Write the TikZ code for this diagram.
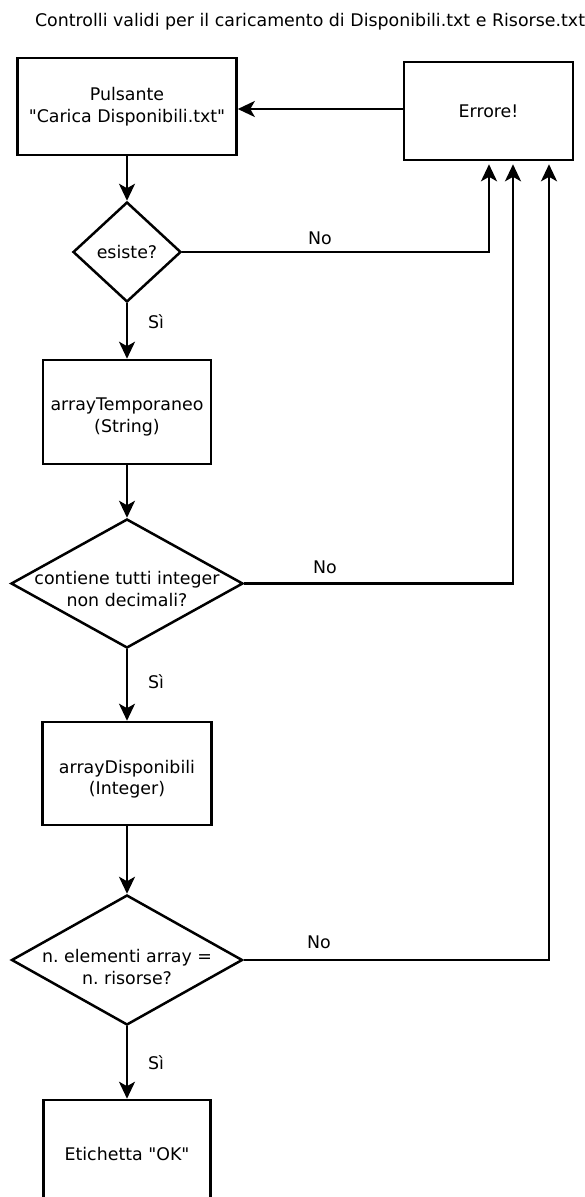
\documentclass[tikz,border=0pt]{standalone}
\usepackage{fontspec}
\newfontfamily\dvs{DejaVu Sans}
\usetikzlibrary{shapes.geometric,arrows.meta}
\begin{document}
\begin{tikzpicture}[x=1pt,y=-1pt,
  every node/.style={font=\dvs\fontsize{17.4}{21.5}\selectfont\frenchspacing, align=center},
  procbox/.style={draw, line width=2.6pt, rectangle, inner sep=0pt},
  decision/.style={draw, line width=2.5pt, diamond, inner sep=0pt},
  flow/.style={line width=2.4pt, -{Stealth[length=17pt,width=16pt,inset=4.5pt]}},
  lbl/.style={inner sep=0pt}
]
\useasboundingbox (0,0) rectangle (585,1197);
\clip (0,0) rectangle (585,1197);
\node[lbl] (title) at (310,22) {Controlli validi per il caricamento di Disponibili.txt e Risorse.txt};

\node[procbox, minimum width=219pt, minimum height=97pt] (puls) at (127,106.5) {Pulsante\\"Carica Disponibili.txt"};
\node[procbox, minimum width=169pt, minimum height=98pt] (err) at (488.5,111) {Errore!};

\node[decision, minimum width=108pt, minimum height=100pt] (d1) at (127,252) {};
\node[lbl] (d1t) at (127,252) {esiste?};

\node[procbox, minimum width=168pt, minimum height=104pt] (arrT) at (127,412) {};
\node[lbl] (arrTt) at (127,417) {arrayTemporaneo\\(String)};

\node[decision, minimum width=232pt, minimum height=129pt] (d2) at (127,583.5) {};
\node[lbl] (d2t) at (127,589) {contiene tutti integer\\non decimali?};

\node[procbox, minimum width=169pt, minimum height=103pt] (arrD) at (127,773.5) {};
\node[lbl] (arrDt) at (127,779) {arrayDisponibili\\(Integer)};

\node[decision, minimum width=231pt, minimum height=130pt] (d3) at (127,960) {};
\node[lbl] (d3t) at (127,967) {n. elementi array =\\n. risorse?};

\node[procbox, minimum width=167pt, minimum height=108pt] (ok) at (127,1154) {Etichetta "OK"};

\coordinate (c1) at (489,252);
\coordinate (c2) at (513,583.5);
\coordinate (c3) at (549,960);

\draw[flow] (err.west |- 0,109) -- (puls.east |- 0,109);
\draw[flow] (puls.south) -- (d1.north);
\draw[flow] (d1.south) -- (arrT.north);
\draw[flow] (arrT.south) -- (d2.north);
\draw[flow] (d2.south) -- (arrD.north);
\draw[flow] (arrD.south) -- (d3.north);
\draw[flow] (d3.south) -- (ok.north);

\draw[flow] (d1.east) -- (c1) -- ([yshift=-3pt]c1 |- err.south);
\draw[flow] (d2.east) -- (c2) -- ([yshift=-3pt]c2 |- err.south);
\draw[flow] (d3.east) -- (c3) -- ([yshift=-3pt]c3 |- err.south);

\node[lbl] (no1) at (320,238) {No};
\node[lbl] (no2) at (325,567) {No};
\node[lbl] (no3) at (319,942) {No};
\node[lbl] (si1) at (156,322) {Sì};
\node[lbl] (si2) at (156,682) {Sì};
\node[lbl] (si3) at (156,1063) {Sì};
\end{tikzpicture}
\end{document}
